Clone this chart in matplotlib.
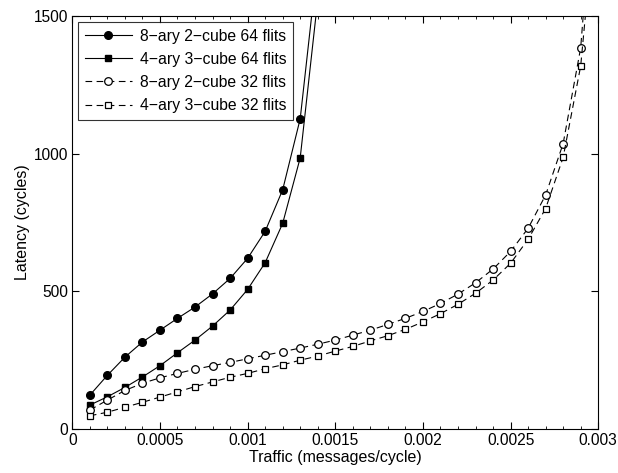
import numpy as np
import matplotlib
matplotlib.use('Agg')
import matplotlib.pyplot as plt
from matplotlib.ticker import MultipleLocator

plt.rcParams['font.family'] = ['Liberation Sans', 'DejaVu Sans']

# 数据
x64 = [0.0001, 0.0002, 0.0003, 0.0004, 0.0005, 0.0006, 0.0007, 0.0008,
       0.0009, 0.0010, 0.0011, 0.0012, 0.0013, 0.0014]
lat_8ary_64 = [123, 195, 261, 316, 359, 402, 443, 491, 547, 620,
               718, 869, 1127, 1700]
lat_4ary_64 = [87, 117, 151, 189, 230, 277, 323, 374, 432, 507,
               604, 747, 985, 1560]

x32 = [0.0001, 0.0002, 0.0003, 0.0004, 0.0005, 0.0006, 0.0007, 0.0008,
       0.0009, 0.0010, 0.0011, 0.0012, 0.0013, 0.0014, 0.0015, 0.0016,
       0.0017, 0.0018, 0.0019, 0.0020, 0.0021, 0.0022, 0.0023, 0.0024,
       0.0025, 0.0026, 0.0027, 0.0028, 0.0029, 0.0030]
lat_8ary_32 = [69, 105, 140, 166, 186, 202, 217, 230, 242, 255, 268, 281,
               294, 308, 323, 341, 359, 380, 402, 427, 456, 490, 531, 581,
               645, 729, 850, 1037, 1385, 2200]
lat_4ary_32 = [48, 61, 79, 97, 116, 135, 154, 171, 188, 202, 219, 233,
               250, 265, 283, 300, 320, 339, 362, 389, 419, 453, 493, 541,
               602, 689, 801, 987, 1319, 2000]

labels = ['8\u2212ary 2\u2212cube 64 flits', '4\u2212ary 3\u2212cube 64 flits',
          '8\u2212ary 2\u2212cube 32 flits', '4\u2212ary 3\u2212cube 32 flits']

fig = plt.figure(figsize=(6.18, 4.73), dpi=100)
ax = fig.add_axes([0.117, 0.093, 0.851, 0.873])

lw = 0.8
dash = (0, (6, 4))
ax.plot(x64, lat_8ary_64, '-', color='k', lw=lw, marker='o', ms=5.5,
        mfc='k', mec='k', label=labels[0])
ax.plot(x64, lat_4ary_64, '-', color='k', lw=lw, marker='s', ms=4.5,
        mfc='k', mec='k', label=labels[1])
ax.plot(x32, lat_8ary_32, linestyle=dash, color='k', lw=lw, marker='o', ms=5.5,
        mfc='white', mec='k', mew=0.9, label=labels[2])
ax.plot(x32, lat_4ary_32, linestyle=dash, color='k', lw=lw, marker='s', ms=4.5,
        mfc='white', mec='k', mew=0.9, label=labels[3])

ax.set_xlim(0, 0.003)
ax.set_ylim(0, 1500)
ax.set_xticks([0, 0.0005, 0.001, 0.0015, 0.002, 0.0025, 0.003])
ax.set_xticklabels(['0', '0.0005', '0.001', '0.0015', '0.002', '0.0025', '0.003'])
ax.set_yticks([0, 500, 1000, 1500])
ax.xaxis.set_minor_locator(MultipleLocator(0.0001))
ax.tick_params(which='both', direction='in', top=True, right=True, labelsize=11.2)
ax.tick_params(which='major', length=5, pad=3)
ax.tick_params(which='minor', length=2.5)
for s in ax.spines.values():
    s.set_linewidth(0.8)

ax.set_xlabel('Traffic (messages/cycle)', fontsize=11.5, labelpad=1)
ax.set_ylabel('Latency (cycles)', fontsize=11.5, labelpad=3)

leg = ax.legend(loc='upper left', fontsize=11.3, frameon=True, fancybox=False,
                edgecolor='k', handlelength=3.0, borderaxespad=0.35,
                labelspacing=0.52, handletextpad=0.5, borderpad=0.45)
leg.get_frame().set_linewidth(0.8)

fig.savefig('out.png', dpi=100)
